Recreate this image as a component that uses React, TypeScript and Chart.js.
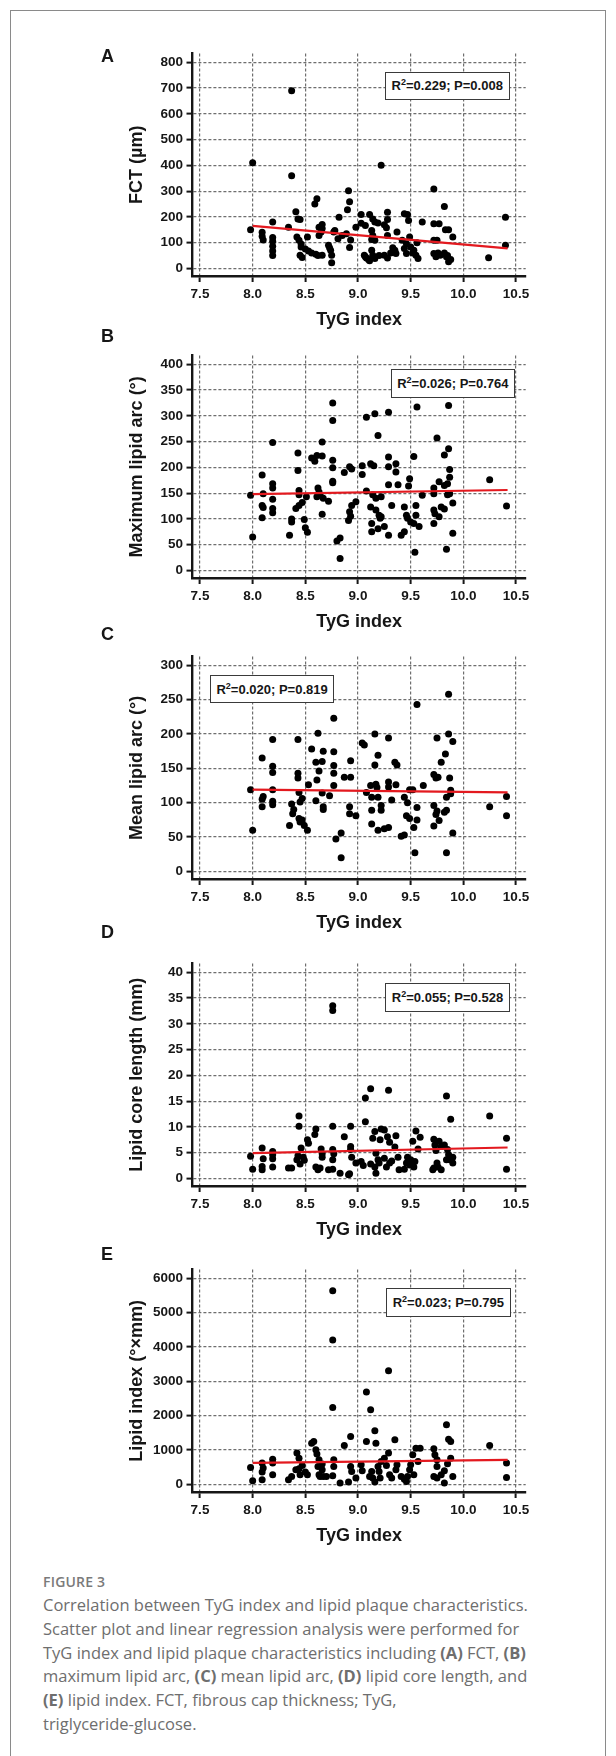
import React, { useEffect, useRef } from "react";
import { Chart, registerables } from "chart.js";

Chart.register(...registerables);

// ---------------- data ----------------
const X_TICKS = [7.5, 8.0, 8.5, 9.0, 9.5, 10.0, 10.5];
const X_TITLE = "TyG index";

const fctTicks = [0, 100, 200, 300, 400, 500, 600, 700, 800];
const maxArcTicks = [0, 50, 100, 150, 200, 250, 300, 350, 400];
const meanArcTicks = [0, 50, 100, 150, 200, 250, 300];
const coreLenTicks = [0, 5, 10, 15, 20, 25, 30, 35, 40];
const lipidIndexTicks = [0, 1000, 2000, 3000, 4000, 5000, 6000];

const fctPoints = [
  [7.98, 150], [8.0, 410],
  [8.09, 140], [8.09, 125], [8.1, 110],
  [8.19, 180], [8.19, 120], [8.19, 105], [8.19, 86], [8.19, 68], [8.19, 50],
  [8.34, 160], [8.37, 360], [8.37, 690],
  [8.41, 220], [8.43, 192], [8.45, 190], [8.42, 122], [8.44, 109], [8.46, 95], [8.46, 83], [8.45, 51], [8.47, 42],
  [8.52, 122], [8.5, 75], [8.53, 68], [8.56, 60], [8.6, 55], [8.62, 50],
  [8.59, 250], [8.61, 270], [8.63, 160], [8.65, 141], [8.63, 128], [8.66, 155], [8.66, 170], [8.66, 51],
  [8.72, 90], [8.74, 70], [8.75, 51], [8.75, 22], [8.77, 141], [8.78, 147], [8.73, 80],
  [8.82, 199], [8.81, 115], [8.85, 128],
  [8.91, 301], [8.92, 259], [8.9, 228], [8.89, 135], [8.93, 110], [8.92, 81],
  [8.98, 160], [9.03, 209], [9.07, 167], [9.03, 175],
  [9.06, 51], [9.08, 40], [9.1, 35], [9.07, 45],
  [9.11, 209], [9.14, 192], [9.16, 180], [9.13, 147], [9.14, 128], [9.13, 112], [9.16, 109], [9.13, 70], [9.14, 51], [9.16, 38], [9.11, 30],
  [9.22, 400], [9.19, 176], [9.25, 169], [9.28, 218], [9.27, 158], [9.28, 190], [9.28, 128], [9.25, 51], [9.28, 40], [9.31, 60], [9.2, 50],
  [9.37, 141], [9.35, 70], [9.36, 58], [9.33, 80],
  [9.44, 212], [9.47, 209], [9.48, 186], [9.42, 109], [9.46, 96], [9.49, 122], [9.44, 77], [9.46, 58], [9.5, 83], [9.53, 70], [9.55, 51], [9.57, 38], [9.56, 100], [9.52, 60],
  [9.61, 180],
  [9.72, 308], [9.72, 173], [9.72, 109], [9.72, 58], [9.74, 45],
  [9.77, 173], [9.75, 109], [9.78, 51], [9.76, 60],
  [9.82, 240], [9.83, 150], [9.86, 150], [9.82, 60], [9.84, 45], [9.86, 26], [9.88, 35], [9.9, 122], [9.85, 50],
  [10.24, 41], [10.4, 199], [10.4, 90],
];
const fctFit = [[8.0, 165], [10.42, 78]];

const maxArcPoints = [
  [7.98, 146], [8.0, 65],
  [8.09, 185], [8.1, 149], [8.09, 126], [8.1, 122], [8.09, 102],
  [8.19, 248], [8.19, 168], [8.19, 160], [8.19, 138], [8.19, 120], [8.19, 112],
  [8.35, 68], [8.37, 100], [8.37, 94],
  [8.43, 228], [8.43, 194], [8.44, 155], [8.44, 147], [8.41, 120], [8.44, 126], [8.47, 132], [8.49, 99], [8.5, 83], [8.52, 74], [8.51, 143],
  [8.56, 218], [8.59, 212], [8.61, 223], [8.66, 222], [8.66, 249], [8.63, 152], [8.61, 143], [8.64, 147], [8.66, 109], [8.72, 134], [8.62, 160], [8.67, 140],
  [8.76, 325], [8.76, 291], [8.76, 214], [8.76, 199], [8.76, 173], [8.76, 170],
  [8.8, 57], [8.83, 63], [8.83, 23],
  [8.87, 190], [8.92, 201], [8.94, 197], [8.91, 97], [8.92, 114], [8.94, 126], [8.98, 133], [8.93, 105],
  [9.04, 186], [9.04, 203], [9.08, 297], [9.08, 154], [9.12, 123], [9.13, 91], [9.13, 75], [9.12, 207], [9.15, 203], [9.16, 304], [9.14, 147], [9.19, 262], [9.19, 81], [9.17, 117], [9.2, 107], [9.21, 101], [9.22, 104], [9.17, 140], [9.22, 143],
  [9.25, 85], [9.29, 307], [9.29, 220], [9.29, 201], [9.29, 166], [9.32, 126], [9.29, 68],
  [9.36, 207], [9.36, 191], [9.38, 166],
  [9.41, 68], [9.44, 75], [9.44, 123], [9.46, 107], [9.47, 101], [9.49, 178], [9.48, 164], [9.5, 94], [9.53, 91], [9.55, 126], [9.55, 107], [9.58, 85], [9.54, 35], [9.53, 221], [9.56, 317],
  [9.61, 146],
  [9.72, 160], [9.72, 149], [9.72, 117], [9.73, 110], [9.72, 91], [9.75, 257], [9.77, 172], [9.77, 104], [9.79, 123],
  [9.82, 165], [9.82, 224], [9.86, 320], [9.86, 236], [9.84, 41], [9.85, 147], [9.87, 149], [9.87, 181], [9.87, 196], [9.85, 168], [9.9, 131], [9.9, 72], [9.82, 119],
  [10.25, 176], [10.41, 125],
];
const maxArcFit = [[8.0, 148], [10.42, 156]];

const meanArcPoints = [
  [7.98, 119], [8.0, 60],
  [8.09, 165], [8.1, 109], [8.09, 105], [8.09, 94],
  [8.19, 192], [8.19, 153], [8.19, 144], [8.19, 119], [8.19, 102], [8.19, 97],
  [8.35, 67], [8.37, 98], [8.38, 84], [8.39, 90],
  [8.43, 192], [8.43, 143], [8.43, 136], [8.44, 115], [8.45, 101], [8.47, 106], [8.44, 77], [8.45, 72], [8.47, 75], [8.49, 67], [8.52, 60], [8.53, 126],
  [8.56, 178], [8.6, 159], [8.63, 146], [8.62, 201], [8.66, 160], [8.67, 175], [8.66, 114], [8.67, 94], [8.67, 90], [8.6, 103], [8.73, 110], [8.61, 133],
  [8.77, 223], [8.77, 174], [8.77, 154], [8.77, 143], [8.77, 125],
  [8.79, 47], [8.84, 56], [8.84, 20],
  [8.87, 137], [8.93, 137], [8.93, 161], [8.92, 94], [8.92, 84], [8.98, 81],
  [9.04, 187], [9.06, 184], [9.08, 115], [9.12, 125], [9.13, 108], [9.13, 89], [9.13, 69], [9.16, 200], [9.16, 155], [9.19, 169], [9.17, 127], [9.18, 122], [9.19, 108], [9.19, 60], [9.22, 96], [9.22, 89], [9.25, 62], [9.29, 64], [9.29, 194], [9.29, 123], [9.29, 130], [9.32, 104], [9.35, 159], [9.37, 155], [9.36, 126],
  [9.41, 51], [9.44, 53], [9.44, 108], [9.46, 81], [9.47, 100], [9.49, 77], [9.49, 119], [9.52, 119], [9.53, 64], [9.54, 27], [9.56, 93], [9.56, 75], [9.56, 243], [9.62, 125],
  [9.72, 141], [9.74, 136], [9.75, 194], [9.72, 96], [9.74, 83], [9.72, 66], [9.75, 88], [9.79, 159], [9.77, 74], [9.83, 171], [9.86, 200], [9.86, 258], [9.87, 136], [9.88, 118], [9.88, 113], [9.84, 108], [9.84, 89], [9.82, 86], [9.84, 27], [9.9, 189], [9.9, 56], [9.76, 137],
  [10.25, 94], [10.41, 109], [10.41, 81],
];
const meanArcFit = [[8.0, 119], [10.42, 115]];

const coreLenPoints = [
  [7.98, 4.3], [8.0, 1.8],
  [8.09, 5.9], [8.1, 3.8], [8.09, 2.3], [8.09, 1.7],
  [8.19, 5.2], [8.19, 4.6], [8.19, 3.8], [8.19, 2.2],
  [8.34, 2.0], [8.37, 2.0],
  [8.42, 3.6], [8.43, 4.4], [8.44, 12.1], [8.44, 10.1], [8.45, 2.8], [8.46, 5.9], [8.48, 4.1], [8.49, 3.5], [8.52, 7.5], [8.53, 6.8], [8.6, 9.6], [8.59, 8.5],
  [8.6, 2.2], [8.62, 1.7], [8.64, 2.0], [8.65, 5.7], [8.66, 4.8], [8.66, 4.1], [8.72, 1.7],
  [8.76, 33.5], [8.76, 32.6], [8.76, 10.1], [8.76, 5.6], [8.77, 4.8], [8.76, 3.6], [8.76, 1.8],
  [8.83, 1.0], [8.87, 8.1], [8.91, 0.7], [8.92, 0.9], [8.93, 10.1], [8.93, 6.2], [8.94, 4.1], [8.98, 3.0], [8.93, 5.6],
  [9.07, 15.6], [9.12, 17.4], [9.29, 17.1], [9.07, 11.0],
  [9.03, 3.3], [9.05, 2.5], [9.12, 2.8], [9.14, 7.8], [9.16, 9.1], [9.17, 4.9], [9.16, 2.2], [9.17, 1.0], [9.19, 3.6], [9.2, 3.0], [9.21, 7.5], [9.22, 9.6], [9.25, 9.4], [9.25, 3.9], [9.27, 2.2], [9.28, 8.1], [9.3, 7.0], [9.3, 3.0], [9.32, 3.4], [9.35, 6.1], [9.38, 4.1], [9.39, 1.7], [9.36, 8.3],
  [9.44, 1.8], [9.46, 3.0], [9.47, 4.1], [9.49, 2.6], [9.5, 3.6], [9.52, 7.2], [9.54, 3.3], [9.55, 9.2], [9.57, 5.7], [9.59, 8.0], [9.53, 2.2],
  [9.72, 7.6], [9.73, 6.5], [9.74, 5.4], [9.75, 3.0], [9.72, 2.0], [9.71, 1.7], [9.76, 2.2], [9.79, 1.7], [9.77, 7.2], [9.79, 6.2], [9.82, 6.5], [9.84, 16.0], [9.85, 5.6], [9.84, 3.6], [9.86, 4.6], [9.87, 3.6], [9.88, 11.5], [9.9, 4.1], [9.9, 3.0],
  [10.25, 12.1], [10.41, 7.8], [10.41, 1.8],
];
const coreLenFit = [[8.0, 4.9], [10.42, 6.0]];

const lipidIndexPoints = [
  [7.98, 494], [8.0, 107],
  [8.09, 620], [8.1, 475], [8.09, 358], [8.09, 136],
  [8.19, 736], [8.19, 620], [8.19, 281],
  [8.34, 136], [8.37, 233],
  [8.42, 911], [8.44, 765], [8.41, 426], [8.44, 455], [8.45, 281], [8.47, 552], [8.5, 358], [8.52, 281],
  [8.56, 1200], [8.58, 1250], [8.6, 1008], [8.61, 882], [8.63, 717], [8.62, 523], [8.63, 281], [8.64, 233], [8.66, 591], [8.66, 426], [8.67, 233], [8.7, 233],
  [8.76, 5640], [8.76, 4200], [8.76, 2238], [8.77, 717], [8.77, 523], [8.76, 252], [8.83, 40], [8.87, 1134], [8.91, 68], [8.93, 1395], [8.93, 523], [8.94, 378], [8.98, 184],
  [9.03, 571], [9.04, 397], [9.08, 2690], [9.08, 1250], [9.12, 2170], [9.16, 1560], [9.13, 378], [9.11, 233], [9.14, 184], [9.16, 68], [9.17, 1200], [9.19, 523], [9.2, 378], [9.21, 184], [9.22, 669], [9.25, 765], [9.27, 552], [9.29, 3310], [9.29, 911], [9.3, 281], [9.32, 184], [9.35, 1298], [9.36, 426], [9.37, 571],
  [9.41, 233], [9.46, 87], [9.47, 233], [9.49, 426], [9.5, 571], [9.52, 862], [9.53, 281], [9.55, 1056], [9.57, 669], [9.59, 1056], [9.44, 150],
  [9.72, 1037], [9.73, 862], [9.75, 717], [9.75, 523], [9.72, 233], [9.75, 184], [9.79, 281], [9.82, 39], [9.84, 1735], [9.86, 1318], [9.88, 1250], [9.9, 233], [9.88, 765], [9.85, 600], [9.82, 400],
  [10.25, 1134], [10.41, 620], [10.41, 204],
];
const lipidIndexFit = [[8.0, 625], [10.42, 715]];

// ---------------- layout / style ----------------
const FONT = "'Liberation Sans', Arial, Helvetica, sans-serif";
const INK = "#161616";
const GRID = "#6e6e6e";
const RED = "#e3191f";

const AREA_LEFT = 192.5;
const AREA_RIGHT = 525.7;
const X_MIN = 7.5 - (200 - AREA_LEFT) / 105.33;
const X_MAX = 10.5 + (AREA_RIGHT - 516) / 105.33;
const PLOT_H = 206.4; // px between 0 and top tick
const ABOVE = 8.7; // axis top above top tick
const BELOW = 7.6; // x axis below zero tick
const CANVAS_PAD_TOP = 11.3;
const X_SCALE_H = 60;
const CANVAS_H = CANVAS_PAD_TOP + ABOVE + PLOT_H + BELOW + X_SCALE_H;
const TICK_SIZE = 13.5;

type PanelDef = {
  letter: string;
  letterY: number;
  gridTop: number;
  yTitle: string;
  yTicks: number[];
  points: number[][];
  fit: number[][];
  r2: string;
  p: string;
  box: { left: number; top: number; width: number; height: number };
};

const panels: PanelDef[] = [
  { letter: "A", letterY: 56, gridTop: 62, yTitle: "FCT (µm)", yTicks: fctTicks, points: fctPoints, fit: fctFit, r2: "0.229", p: "0.008", box: { left: 384.5, top: 71.7, width: 125.5, height: 28.3 } },
  { letter: "B", letterY: 336, gridTop: 363.7, yTitle: "Maximum lipid arc (°)", yTicks: maxArcTicks, points: maxArcPoints, fit: maxArcFit, r2: "0.026", p: "0.764", box: { left: 391, top: 369, width: 123.7, height: 28.7 } },
  { letter: "C", letterY: 633.5, gridTop: 665, yTitle: "Mean lipid arc (°)", yTicks: meanArcTicks, points: meanArcPoints, fit: meanArcFit, r2: "0.020", p: "0.819", box: { left: 210.2, top: 675, width: 123.8, height: 28.3 } },
  { letter: "D", letterY: 931.7, gridTop: 972.3, yTitle: "Lipid core length (mm)", yTicks: coreLenTicks, points: coreLenPoints, fit: coreLenFit, r2: "0.055", p: "0.528", box: { left: 385, top: 982.7, width: 125, height: 29 } },
  { letter: "E", letterY: 1254, gridTop: 1278.3, yTitle: "Lipid index (°×mm)", yTicks: lipidIndexTicks, points: lipidIndexPoints, fit: lipidIndexFit, r2: "0.023", p: "0.795", box: { left: 385.8, top: 1288.3, width: 125, height: 29 } },
];

function Panel({ def }: { def: PanelDef }) {
  const ref = useRef<HTMLCanvasElement>(null);
  useEffect(() => {
    const canvas = ref.current;
    if (!canvas) return;
    const yTop = def.yTicks[def.yTicks.length - 1];
    const k = PLOT_H / yTop;
    const chart = new Chart(canvas, {
      type: "scatter",
      data: {
        datasets: [
          {
            type: "line",
            data: def.fit.map(([x, y]) => ({ x, y })),
            borderColor: RED,
            borderWidth: 2.2,
            pointRadius: 0,
            fill: false,
            tension: 0,
            order: 0,
          } as any,
          {
            type: "scatter",
            data: def.points.map(([x, y]) => ({ x, y })),
            backgroundColor: "#000",
            borderColor: "#000",
            borderWidth: 0,
            pointRadius: 3.5,
            pointHoverRadius: 3.5,
            order: 1,
          } as any,
        ],
      },
      options: {
        responsive: false,
        maintainAspectRatio: false,
        animation: false,
        devicePixelRatio: 1,
        events: [],
        layout: { padding: { left: 0, right: 616 - AREA_RIGHT, top: CANVAS_PAD_TOP, bottom: 0 } },
        plugins: { legend: { display: false }, tooltip: { enabled: false }, title: { display: false } },
        scales: {
          x: {
            type: "linear",
            position: "bottom",
            min: X_MIN,
            max: X_MAX,
            afterBuildTicks: (s: any) => {
              s.ticks = X_TICKS.map((v) => ({ value: v }));
            },
            afterFit: (s: any) => {
              s.height = X_SCALE_H;
            },
            ticks: {
              autoSkip: false,
              maxRotation: 0,
              padding: 4,
              color: INK,
              font: { family: FONT, size: TICK_SIZE, weight: "bold" },
              callback: (v: any) => Number(v).toFixed(1),
            },
            grid: { color: GRID, lineWidth: 1.2, tickLength: 6, tickColor: INK, tickWidth: 2 },
            border: { display: true, color: INK, width: 2.4, dash: [3, 2] },
            title: {
              display: true,
              text: X_TITLE,
              color: INK,
              font: { family: FONT, size: 18, weight: "bold" },
              padding: { top: 0, bottom: 4.8 },
            },
          },
          y: {
            type: "linear",
            position: "left",
            min: -BELOW / k,
            max: yTop + ABOVE / k,
            afterBuildTicks: (s: any) => {
              s.ticks = def.yTicks.map((v) => ({ value: v }));
            },
            afterFit: (s: any) => {
              s.width = AREA_LEFT;
            },
            ticks: {
              autoSkip: false,
              padding: 3.5,
              color: INK,
              font: { family: FONT, size: TICK_SIZE, weight: "bold" },
              callback: (v: any) => String(Math.round(Number(v))),
            },
            grid: { color: GRID, lineWidth: 1.2, tickLength: 6, tickColor: INK, tickWidth: 2 },
            border: { display: true, color: INK, width: 2.4, dash: [3, 2] },
            title: {
              display: true,
              text: def.yTitle,
              color: INK,
              font: { family: FONT, size: 18, weight: "bold" },
              padding: { top: 126.2, bottom: 0 },
            },
          },
        },
      } as any,
    });
    return () => chart.destroy();
  }, [def]);

  const top = def.gridTop - ABOVE - CANVAS_PAD_TOP;
  return (
    <>
      <canvas
        ref={ref}
        width={616}
        height={Math.round(CANVAS_H)}
        style={{ position: "absolute", left: 0, top, width: 616, height: Math.round(CANVAS_H) }}
      />
      <div
        style={{
          position: "absolute",
          left: 101,
          top: def.letterY - 11,
          fontFamily: FONT,
          fontWeight: "bold",
          fontSize: 18,
          lineHeight: "22px",
          color: INK,
        }}
      >
        {def.letter}
      </div>
      <div
        style={{
          position: "absolute",
          left: def.box.left,
          top: def.box.top,
          width: def.box.width,
          height: def.box.height,
          boxSizing: "border-box",
          border: "1.5px solid #3a3a3a",
          background: "#fff",
          display: "flex",
          alignItems: "center",
          justifyContent: "center",
          fontFamily: FONT,
          fontWeight: "bold",
          fontSize: 13,
          color: INK,
          whiteSpace: "nowrap",
        }}
      >
        <span>
          R<sup style={{ fontSize: 9, lineHeight: 0, verticalAlign: "5px" }}>2</sup>={def.r2}; P={def.p}
        </span>
      </div>
    </>
  );
}

const captionLines: React.ReactNode[] = [
  "Correlation between TyG index and lipid plaque characteristics.",
  "Scatter plot and linear regression analysis were performed for",
  <>TyG index and lipid plaque characteristics including <b>(A)</b> FCT, <b>(B)</b></>,
  <>maximum lipid arc, <b>(C)</b> mean lipid arc, <b>(D)</b> lipid core length, and</>,
  <><b>(E)</b> lipid index. FCT, fibrous cap thickness; TyG,</>,
  "triglyceride-glucose.",
];

export default function App() {
  return (
    <div
      style={{
        position: "absolute",
        left: 0,
        top: 0,
        width: 616,
        height: 1756,
        overflow: "hidden",
        background: "#fff",
      }}
    >
      <div
        style={{
          position: "absolute",
          left: 10,
          top: 10,
          width: 596,
          height: 1800,
          boxSizing: "border-box",
          borderLeft: "1px solid #8a8a8a",
          borderTop: "1px solid #8a8a8a",
          borderRight: "1px solid #8a8a8a",
        }}
      />
      {panels.map((p) => (
        <Panel key={p.letter} def={p} />
      ))}
      <div
        style={{
          position: "absolute",
          left: 43,
          top: 1570,
          fontFamily: "'Open Sans', 'Noto Sans', sans-serif",
          fontSize: 14,
          fontWeight: 600,
          color: "#7a7a7a",
          lineHeight: "23.8px",
          letterSpacing: 0.2,
        }}
      >
        FIGURE 3
      </div>
      <div
        style={{
          position: "absolute",
          left: 43,
          top: 1593.1,
          fontFamily: "'Open Sans', 'Noto Sans', sans-serif",
          fontSize: 16.5,
          fontWeight: 400,
          color: "#6e6e6e",
          lineHeight: "23.8px",
        }}
      >
        {captionLines.map((l, i) => (
          <div key={i} style={{ whiteSpace: "nowrap" }}>
            {l}
          </div>
        ))}
      </div>
    </div>
  );
}
